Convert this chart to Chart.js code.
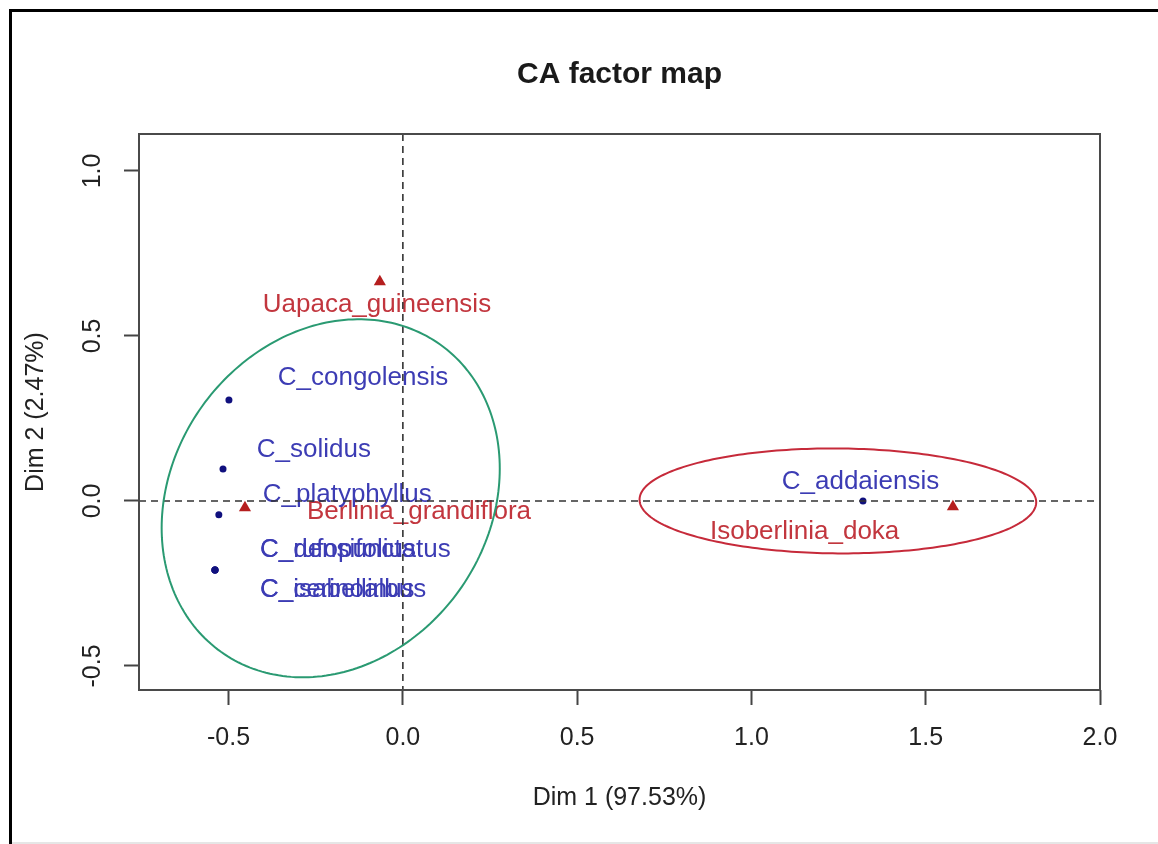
<!DOCTYPE html>
<html><head><meta charset="utf-8">
<script src="https://cdn.jsdelivr.net/npm/chart.js@4.4.1/dist/chart.umd.min.js"></script>
<style>
html,body{margin:0;padding:0;background:#fff;width:1158px;height:844px;overflow:hidden;}
#frameL{position:absolute;left:9px;top:9px;width:3px;height:835px;background:#000;}
#frameT{position:absolute;left:9px;top:9px;width:1149px;height:3px;background:#000;}
#frameB{position:absolute;left:12px;top:842px;width:1146px;height:2px;background:#e6e6e6;}
canvas{position:absolute;left:0;top:0;}
</style></head><body>
<div id="frameL"></div><div id="frameT"></div><div id="frameB"></div>
<canvas id="c" width="1158" height="844"></canvas>
<script>
// ---- text ----
const chartTitle = 'CA factor map';
const xAxisTitle = 'Dim 1 (97.53%)';
const yAxisTitle = 'Dim 2 (2.47%)';

// ---- axes ----
const xTickValues = [-0.5, 0, 0.5, 1, 1.5, 2];
const yTickValues = [-0.5, 0, 0.5, 1];
const xRange = [-0.757, 2.0];
const yRange = [-0.573, 1.112];

// ---- column points (blue) ----
const colNames = ['C_congolensis', 'C_solidus', 'C_platyphyllus', 'C_rufopunctatus', 'C_densifolius', 'C_isabellinus', 'C_cerinoalbus', 'C_addaiensis'];
const colDim1 = [-0.499, -0.516, -0.528, -0.539, -0.539, -0.539, -0.539, 1.320];
const colDim2 = [0.306, 0.097, -0.042, -0.209, -0.209, -0.209, -0.209, 0.000];
const colLabelDim1 = [-0.359, -0.419, -0.402, -0.410, -0.410, -0.410, -0.410, 1.087];
const colLabelDim2 = [0.373, 0.155, 0.018, -0.148, -0.148, -0.270, -0.270, 0.058];

// ---- row points (red) ----
const rowNames = ['Uapaca_guineensis', 'Berlinia_grandiflora', 'Isoberlinia_doka'];
const rowDim1 = [-0.066, -0.453, 1.578];
const rowDim2 = [0.664, -0.021, -0.018];
const rowLabelDim1 = [-0.402, -0.275, 0.881];
const rowLabelDim2 = [0.594, -0.033, -0.094];

// ---- cluster ellipses: centre + conjugate semi-axis vectors ----
const ellipseCentreDim1 = [-0.207, 1.248];
const ellipseCentreDim2 = [0.008, 0.000];
const ellipseAxisADim1 = [0.485, 0.569];
const ellipseAxisADim2 = [0.090, -0.004];
const ellipseAxisBDim2 = [0.535, 0.159];

// ---- styles ----
const FONT = '"Liberation Sans", Arial, Helvetica, sans-serif';
const ellipseColors = ['#2a9a72', '#c62a3a'];
const colColor = '#3c3cb4';
const colPointColor = '#10107e';
const rowColor = '#c2363e';
const rowPointColor = '#b51e1e';
const inkColor = '#222222';

Chart.defaults.font.family = FONT;

const overlay = {
  id: 'overlay',
  afterDatasetsDraw(chart) {
    const {ctx, chartArea: a, scales: {x, y}} = chart;
    ctx.save();
    // labels
    ctx.font = '26px ' + FONT;
    ctx.textAlign = 'left';
    ctx.textBaseline = 'middle';
    ctx.fillStyle = rowColor;
    rowNames.forEach((n, i) => ctx.fillText(n, x.getPixelForValue(rowLabelDim1[i]), y.getPixelForValue(rowLabelDim2[i])));
    ctx.fillStyle = colColor;
    colNames.forEach((n, i) => ctx.fillText(n, x.getPixelForValue(colLabelDim1[i]), y.getPixelForValue(colLabelDim2[i])));
    // dashed zero lines
    ctx.beginPath();
    ctx.rect(a.left, a.top, a.right - a.left, a.bottom - a.top);
    ctx.clip();
    ctx.strokeStyle = '#333';
    ctx.lineWidth = 1.6;
    ctx.setLineDash([7, 5]);
    const x0 = x.getPixelForValue(0), y0 = y.getPixelForValue(0);
    ctx.beginPath();
    ctx.moveTo(x0, a.top); ctx.lineTo(x0, a.bottom);
    ctx.moveTo(a.left, y0); ctx.lineTo(a.right, y0);
    ctx.stroke();
    ctx.setLineDash([]);
    // ellipses
    ctx.lineWidth = 2;
    ellipseCentreDim1.forEach((cx, k) => {
      ctx.strokeStyle = ellipseColors[k];
      ctx.beginPath();
      const N = 240;
      for (let j = 0; j <= N; j++) {
        const t = j / N * Math.PI * 2;
        const dx = cx + ellipseAxisADim1[k] * Math.cos(t);
        const dy = ellipseCentreDim2[k] + ellipseAxisADim2[k] * Math.cos(t) + ellipseAxisBDim2[k] * Math.sin(t);
        const px = x.getPixelForValue(dx), py = y.getPixelForValue(dy);
        if (j === 0) ctx.moveTo(px, py); else ctx.lineTo(px, py);
      }
      ctx.closePath();
      ctx.stroke();
    });
    ctx.restore();
    // frame
    ctx.save();
    ctx.strokeStyle = '#4a4a4a';
    ctx.lineWidth = 2;
    ctx.strokeRect(a.left, a.top, a.right - a.left, a.bottom - a.top);
    ctx.restore();
  }
};

new Chart(document.getElementById('c'), {
  type: 'scatter',
  data: {
    datasets: [
      {
        label: 'columns',
        data: colNames.map((n, i) => ({x: colDim1[i], y: colDim2[i]})),
        pointStyle: 'circle', pointRadius: 3.5, borderWidth: 0,
        backgroundColor: colPointColor, borderColor: colPointColor
      },
      {
        label: 'rows',
        data: rowNames.map((n, i) => ({x: rowDim1[i], y: rowDim2[i]})),
        pointStyle: 'triangle', pointRadius: 7, borderWidth: 0,
        backgroundColor: rowPointColor, borderColor: rowPointColor
      }
    ]
  },
  options: {
    responsive: false,
    animation: false,
    devicePixelRatio: 1,
    layout: {padding: {left: 0, right: 58, top: 0, bottom: 0}},
    plugins: {
      legend: {display: false},
      tooltip: {enabled: false},
      title: {
        display: true, text: chartTitle, fullSize: false, color: '#1a1a1a',
        font: {size: 30, weight: 'bold', family: FONT},
        padding: {top: 57, bottom: 41}
      }
    },
    scales: {
      x: {
        type: 'linear', min: xRange[0], max: xRange[1],
        afterBuildTicks: s => { s.ticks = xTickValues.map(v => ({value: v})); },
        afterFit: s => { s.height = 154; },
        border: {display: false},
        grid: {drawOnChartArea: false, drawTicks: true, tickLength: 15, tickColor: '#444', tickWidth: 2},
        ticks: {font: {size: 25}, color: inkColor, padding: 18, callback: v => Number(v).toFixed(1)},
        title: {display: true, text: xAxisTitle, color: inkColor, font: {size: 25}, padding: {top: 0, bottom: 31}}
      },
      y: {
        type: 'linear', min: yRange[0], max: yRange[1],
        afterBuildTicks: s => { s.ticks = yTickValues.map(v => ({value: v})); },
        afterFit: s => { s.width = 139; },
        border: {display: false},
        grid: {drawOnChartArea: false, drawTicks: true, tickLength: 15, tickColor: '#444', tickWidth: 2},
        ticks: {font: {size: 25}, color: inkColor, padding: 9, minRotation: 90, maxRotation: 90, crossAlign: 'center', callback: v => Number(v).toFixed(1)},
        title: {display: true, text: yAxisTitle, color: inkColor, font: {size: 25}, padding: {top: 21, bottom: 0}}
      }
    }
  },
  plugins: [overlay]
});
</script>
</body></html>
